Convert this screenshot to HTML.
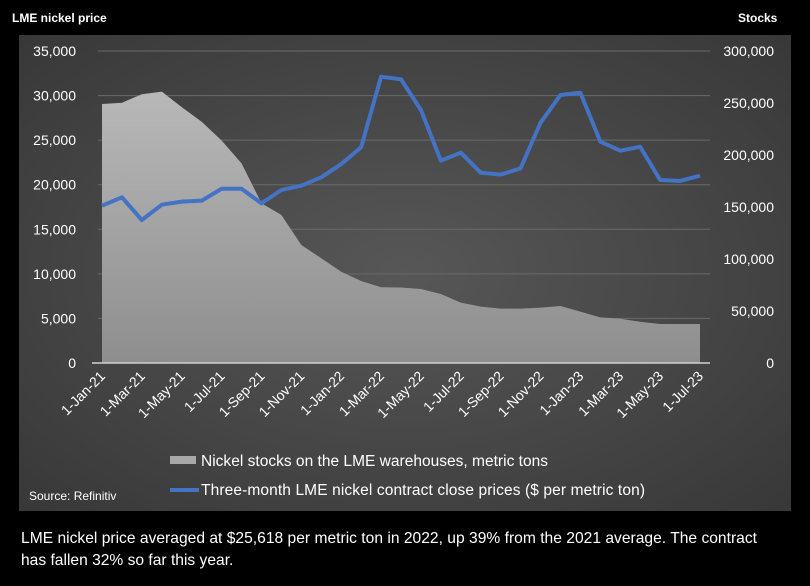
<!DOCTYPE html>
<html><head><meta charset="utf-8"><style>
body{margin:0;background:#000;width:810px;height:581px;overflow:hidden;font-family:"Liberation Sans",sans-serif}
</style></head><body>
<svg id="c" width="810" height="581" xmlns="http://www.w3.org/2000/svg">
<defs>
<radialGradient id="bg" cx="0.5" cy="0.5" r="0.7"><stop offset="0" stop-color="#575757"/><stop offset="1" stop-color="#383838"/></radialGradient>
<linearGradient id="area" x1="0" y1="0" x2="0" y2="1"><stop offset="0" stop-color="#b8b8b8"/><stop offset="1" stop-color="#8e8e8e"/></linearGradient>
</defs>
<rect x="19" y="35" width="772" height="476" fill="url(#bg)"/>
<text x="12" y="22" fill="#fff" font-size="12" font-weight="bold">LME nickel price</text>
<text x="738" y="22" fill="#fff" font-size="12" font-weight="bold">Stocks</text>
<g id="grid"></g><g id="series"></g><g id="axes"></g>
<rect x="170" y="456" width="26" height="8" fill="#a8a8a8"/>
<text x="201" y="466" fill="#fff" font-size="15.5" textLength="347">Nickel stocks on the LME warehouses, metric tons</text>
<line x1="170" y1="490" x2="199" y2="490" stroke="#4472c4" stroke-width="4"/>
<text x="201" y="495" fill="#fff" font-size="15.5" textLength="444">Three-month LME nickel contract close prices ($ per metric ton)</text>
<text x="29" y="500" fill="#fff" font-size="12">Source: Refinitiv</text>
<text x="21" y="543" fill="#fff" font-size="15.6" textLength="736">LME nickel price averaged at $25,618 per metric ton in 2022, up 39% from the 2021 average. The contract</text>
<text x="21" y="565" fill="#fff" font-size="15.6">has fallen 32% so far this year.</text>
</svg>
<script>
const months=["1-Jan-21","1-Feb-21","1-Mar-21","1-Apr-21","1-May-21","1-Jun-21","1-Jul-21","1-Aug-21","1-Sep-21","1-Oct-21","1-Nov-21","1-Dec-21","1-Jan-22","1-Feb-22","1-Mar-22","1-Apr-22","1-May-22","1-Jun-22","1-Jul-22","1-Aug-22","1-Sep-22","1-Oct-22","1-Nov-22","1-Dec-22","1-Jan-23","1-Feb-23","1-Mar-23","1-Apr-23","1-May-23","1-Jun-23","1-Jul-23"];
const prices=[17650,18590,16040,17760,18100,18210,19550,19550,17910,19410,19890,20830,22320,24200,32120,31820,28380,22700,23590,21350,21130,21840,26960,30060,30320,24830,23820,24260,20530,20420,21010];
const stocks=[249000,250300,258400,260900,246000,232000,214000,192000,153600,142300,113500,100700,87800,78800,72800,72600,71200,66300,58000,54200,52300,52300,53200,54800,49400,43900,42600,39700,37500,37500,37500];
const leftTicks=[0,5000,10000,15000,20000,25000,30000,35000];
const rightTicks=[0,50000,100000,150000,200000,250000,300000];
const NS="http://www.w3.org/2000/svg";
const X0=102,X1=700,Y0=363,YT=51;
const x=i=>X0+(X1-X0)*i/(months.length-1);
const yL=v=>Y0-(Y0-YT)*v/35000;
const yR=v=>Y0-(Y0-YT)*v/300000;
const fmt=v=>v.toLocaleString("en-US");
function mk(tag,attrs,parent){const e=document.createElementNS(NS,tag);for(const k in attrs)e.setAttribute(k,attrs[k]);parent.appendChild(e);return e;}
const grid=document.getElementById("grid"),ser=document.getElementById("series"),ax=document.getElementById("axes");
leftTicks.forEach(v=>{
 if(v>0){const l=mk("line",{x1:X0-4,x2:X1+10,y1:yL(v),y2:yL(v),stroke:"#6a6a6a","stroke-width":1},grid);
 
 }
 const t=mk("text",{x:76,y:yL(v)+5,fill:"#fff","font-size":"14","text-anchor":"end"},ax);t.textContent=fmt(v);
 
 
});
rightTicks.forEach(v=>{
 const t=mk("text",{x:774,y:yR(v)+5,fill:"#fff","font-size":"14","text-anchor":"end"},ax);t.textContent=fmt(v);
 
 
});
let d="M"+x(0)+","+Y0;stocks.forEach((v,i)=>{d+=" L"+x(i)+","+yR(v);});d+=" L"+x(stocks.length-1)+","+Y0+"Z";
const a=mk("path",{d:d,fill:"url(#area)"},ser);


const base=mk("line",{x1:X0-10,x2:X1+10,y1:Y0,y2:Y0,stroke:"#d0d0d0","stroke-width":1.5},ser);


const pl=mk("polyline",{points:prices.map((v,i)=>x(i)+","+yL(v)).join(" "),fill:"none",stroke:"#4472c4","stroke-width":4,"stroke-linejoin":"round"},ser);


months.forEach((m,i)=>{if(i%2)return;
 const t=mk("text",{x:x(i)+4,y:Y0+14,fill:"#fff","font-size":"14","text-anchor":"end",transform:`rotate(-45 ${x(i)+4} ${Y0+14})`},ax);t.textContent=m;
 
 
});
</script>
</body></html>
